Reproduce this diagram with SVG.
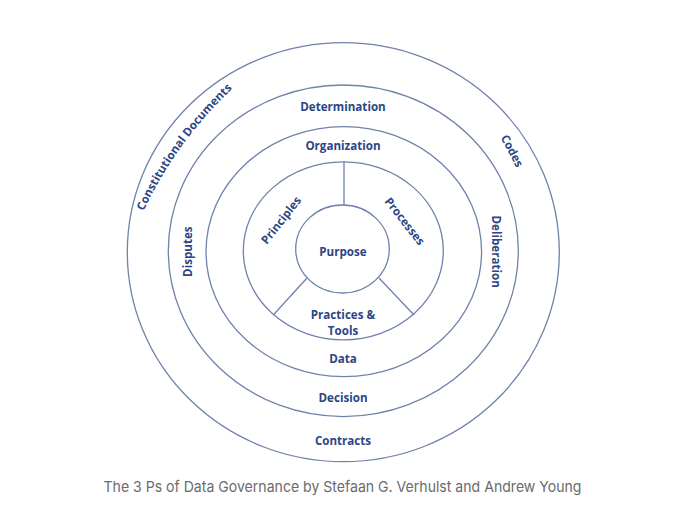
<svg xmlns="http://www.w3.org/2000/svg" width="680" height="531" viewBox="0 0 680 531">
  <defs>
    <style>
      .ring { fill: none; stroke: #6f82aa; stroke-width: 1.3; }
      .div { stroke: #6f82aa; stroke-width: 1.3; fill: none; }
      .lbl { font-family: "Open Sans", "Liberation Sans", sans-serif; font-weight: 700; font-size: 11.6px; fill: #2b4685; text-anchor: middle; }
      .cap { font-family: "Inter", "Liberation Sans", sans-serif; font-size: 15px; fill: #6b6b6b; text-anchor: middle; }
    </style>
    <path id="constPath" d="M 139.6 219.6 A 400 400 0 0 1 239.4 82.4"/>
  </defs>
  <rect width="680" height="531" fill="#ffffff"/>

  <g id="outer-ring">
    <ellipse class="ring" cx="343.3" cy="252.2" rx="216" ry="209.5"/>
    <text class="lbl"><textPath href="#constPath" startOffset="50%">Constitutional Documents</textPath></text>
    <text class="lbl" transform="translate(508.5 152.7) rotate(62.3)">Codes</text>
    <text class="lbl" x="343" y="445">Contracts</text>
  </g>

  <g id="decision-ring">
    <ellipse class="ring" cx="343.3" cy="250.8" rx="175" ry="165.8"/>
    <text class="lbl" x="343" y="111">Determination</text>
    <text class="lbl" transform="translate(192 251.7) rotate(-90)">Disputes</text>
    <text class="lbl" transform="translate(492 251.7) rotate(90)">Deliberation</text>
    <text class="lbl" x="343" y="401.5">Decision</text>
  </g>

  <g id="data-ring">
    <ellipse class="ring" cx="343.8" cy="251.7" rx="137.8" ry="125"/>
    <text class="lbl" x="343" y="149.5">Organization</text>
    <text class="lbl" x="343" y="363">Data</text>
  </g>

  <g id="ps-ring">
    <ellipse class="ring" cx="343.3" cy="250.8" rx="100" ry="89"/>
    <text class="lbl" transform="translate(284.3 222.8) rotate(-51.6)">Principles</text>
    <text class="lbl" transform="translate(401.5 223.8) rotate(51.9)">Processes</text>
    <text class="lbl" x="343" y="318.5">Practices &amp;</text>
    <text class="lbl" x="343" y="334.5">Tools</text>
  </g>

  <g id="purpose">
    <ellipse class="ring" cx="342.5" cy="249" rx="46.8" ry="44"/>
    <text class="lbl" x="343" y="255.5">Purpose</text>
  </g>

  <g id="connectors">
    <line class="div" x1="344" y1="162" x2="344" y2="205"/>
    <line class="div" x1="273.3" y1="315" x2="307" y2="278"/>
    <line class="div" x1="379" y1="278" x2="414" y2="315"/>
  </g>

  <text class="cap" x="342.5" y="492" textLength="478" lengthAdjust="spacingAndGlyphs">The 3 Ps of Data Governance by Stefaan G. Verhulst and Andrew Young</text>
</svg>
